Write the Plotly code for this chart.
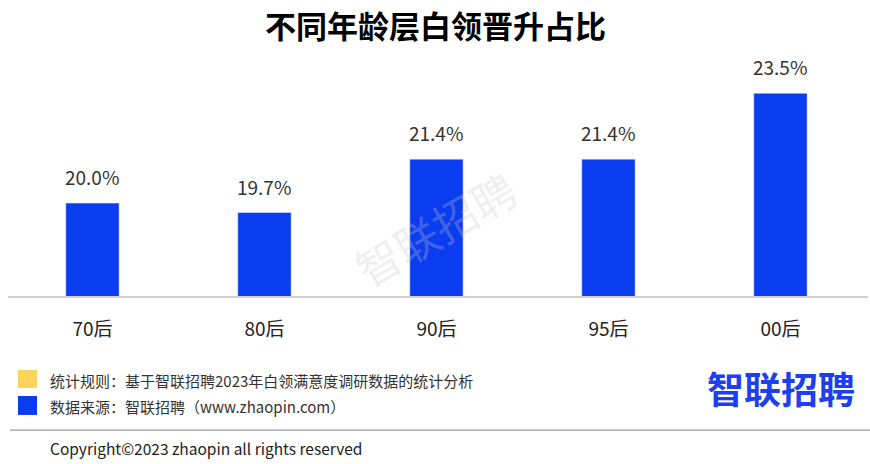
import plotly.graph_objects as go

categories = ["70后", "80后", "90后", "95后", "00后"]
values = [20.0, 19.7, 21.4, 21.4, 23.5]
value_labels = ["20.0%", "19.7%", "21.4%", "21.4%", "23.5%"]

title_text = "不同年龄层白领晋升占比"
note_rule = "统计规则：基于智联招聘2023年白领满意度调研数据的统计分析"
note_source = "数据来源：智联招聘（www.zhaopin.com）"
copyright_text = "Copyright©2023 zhaopin all rights reserved"
logo_text = "智联招聘"

BLUE = "#0a3cf0"
YELLOW = "#fcd35c"
FONT = "Noto Sans CJK SC"

fig = go.Figure()
fig.add_trace(go.Bar(
    x=categories, y=values, marker_color=BLUE, width=0.31,
    hoverinfo="skip",
))

for c, v, t in zip(categories, values, value_labels):
    fig.add_annotation(x=c, y=v, text=t, showarrow=False, yanchor="bottom",
                       yshift=11, font=dict(size=19, color="#333333", family=FONT))

# title
fig.add_annotation(xref="paper", yref="paper", x=0.497, y=1, xanchor="center", yanchor="middle",
                   yshift=36, text="<b>" + title_text + "</b>", showarrow=False,
                   font=dict(size=31, color="#000000", family=FONT))

# watermark
fig.add_annotation(xref="paper", yref="paper", x=0.4965, y=0.29, xanchor="center", yanchor="middle",
                   text=logo_text, showarrow=False,
                   textangle=-30, font=dict(size=44, color="rgba(200,200,200,0.3)", family=FONT))

# legend notes
fig.add_shape(type="rect", xref="paper", yref="paper", layer="above",
              x0=0.0116, x1=0.0337, y0=-0.39, y1=-0.3136,
              fillcolor=YELLOW, line_width=0)
fig.add_shape(type="rect", xref="paper", yref="paper", layer="above",
              x0=0.0116, x1=0.0337, y0=-0.504, y1=-0.4237,
              fillcolor=BLUE, line_width=0)
fig.add_annotation(xref="paper", yref="paper", x=0.0465, y=-0.356, xanchor="left", yanchor="middle",
                   text=note_rule, showarrow=False, font=dict(size=15, color="#333333", family=FONT))
fig.add_annotation(xref="paper", yref="paper", x=0.0465, y=-0.470, xanchor="left", yanchor="middle",
                   text=note_source, showarrow=False, font=dict(size=15, color="#333333", family=FONT))
# separator
fig.add_shape(type="line", xref="paper", yref="paper", x0=0.0023, x1=1.01, y0=-0.568, y1=-0.568,
              line=dict(color="#9a9a9a", width=1.2))
fig.add_annotation(xref="paper", yref="paper", x=0.0465, y=-0.644, xanchor="left", yanchor="middle",
                   text=copyright_text, showarrow=False, font=dict(size=15.5, color="#222222", family=FONT))
# logo
fig.add_annotation(xref="paper", yref="paper", x=0.899, y=-0.39, xanchor="center", yanchor="middle",
                   text="<b>" + logo_text + "</b>", showarrow=False,
                   font=dict(size=37, color="#1c3ff0", family=FONT))

fig.update_layout(
    width=870, height=464,
    margin=dict(l=8, r=2, t=60, b=168),
    paper_bgcolor="white", plot_bgcolor="white",
    showlegend=False,
    hovermode=False,
    xaxis=dict(showline=True, linecolor="#d0d0d0", linewidth=1.5, ticks="",
               range=[-0.491, 4.509],
               tickfont=dict(size=19, color="#222222", family=FONT),
               ticklabelstandoff=15, fixedrange=True),
    yaxis=dict(range=[17.04, 24.56], visible=False, showgrid=False, fixedrange=True),
    font=dict(family=FONT),
)

fig.write_html("out.html", config={"displayModeBar": False},
               post_script="document.body.style.margin='0px';")
